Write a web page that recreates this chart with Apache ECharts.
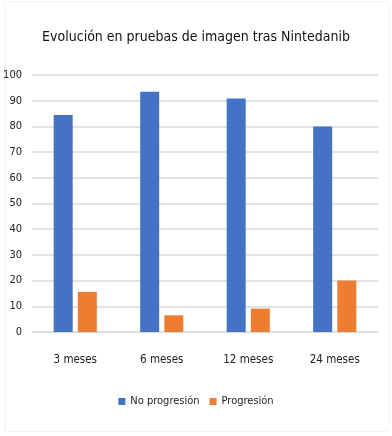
<!DOCTYPE html>
<html>
<head>
<meta charset="utf-8">
<script src="https://cdn.jsdelivr.net/npm/echarts@6/dist/echarts.min.js"></script>
<style>
  html, body { margin: 0; padding: 0; background: #fff; }
  #chart { width: 392px; height: 436px; }
</style>
</head>
<body>
<div id="chart"></div>
<script>
// datos
var categorias = ['3 meses', '6 meses', '12 meses', '24 meses'];
var noProgresion = [84.4, 93.5, 90.9, 80];
var progresion = [15.6, 6.5, 9.1, 20];
var nombres = ['No progresión', 'Progresión'];

var fuente = "'DejaVu Sans Condensed', 'Liberation Sans Narrow', sans-serif";

var option = {
    backgroundColor: '#fff',
    title: {
        text: 'Evolución en pruebas de imagen tras Nintedanib',
        left: 'center',
        top: 25,
        textStyle: {
            fontFamily: fuente,
            fontSize: 14,
            fontWeight: 'normal',
            color: '#111'
        }
    },
    graphic: [{
        type: 'rect',
        shape: { x: 4.5, y: 1.5, width: 384, height: 430 },
        style: { fill: 'none', stroke: '#f2f2f2', lineWidth: 1 },
        silent: true
    }],
    legend: {
        data: nombres,
        bottom: 24,
        left: 'center',
        itemWidth: 7,
        itemHeight: 7,
        itemGap: 10,
        icon: 'rect',
        textStyle: {
            fontFamily: fuente,
            fontSize: 11,
            color: '#222'
        }
    },
    grid: {
        left: 32,
        right: 14,
        top: 75,
        bottom: 104,
        containLabel: false
    },
    xAxis: {
        type: 'category',
        data: categorias,
        axisTick: { show: false },
        axisLine: { lineStyle: { color: '#d9d9d9' } },
        axisLabel: {
            margin: 22,
            fontFamily: fuente,
            fontSize: 11.5,
            color: '#222'
        }
    },
    yAxis: {
        type: 'value',
        min: 0,
        max: 100,
        interval: 10,
        axisLine: { show: false },
        axisTick: { show: false },
        axisLabel: {
            margin: 10,
            fontFamily: fuente,
            fontSize: 11,
            color: '#222'
        },
        splitLine: { lineStyle: { color: '#d9d9d9', width: 1.5 } }
    },
    series: [{
        name: nombres[0],
        type: 'bar',
        barWidth: 19,
        barGap: '27%',
        itemStyle: { color: '#4472C4' },
        data: noProgresion
    }, {
        name: nombres[1],
        type: 'bar',
        barWidth: 19,
        itemStyle: { color: '#ED7D31' },
        data: progresion
    }]
};

var chartDiv = document.getElementById('chart');
var myChart = echarts.init(chartDiv);
myChart.setOption(option);
</script>
</body>
</html>
